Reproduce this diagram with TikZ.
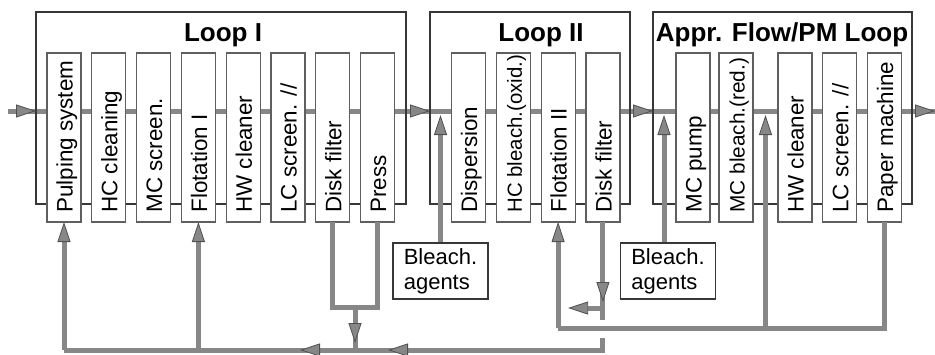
\documentclass[tikz,border=0pt]{standalone}
\usepackage{fontspec}
\setmainfont{Liberation Sans}
\usepackage{tikz}
\usetikzlibrary{positioning}
\usetikzlibrary{calc}
\usetikzlibrary{arrows.meta}
\usetikzlibrary{backgrounds}
\definecolor{flowgray}{RGB}{135,135,135}
\definecolor{tipgray}{RGB}{80,80,80}
\definecolor{framegray}{RGB}{55,55,55}
\definecolor{boxgray}{RGB}{95,95,95}

\begin{document}
\begin{tikzpicture}[x=0.5pt, y=-0.5pt, node distance=5.4pt,
    loopframe/.style={draw=framegray, line width=0.6pt, inner sep=0pt, outer sep=0pt, minimum height=96pt},
    unit/.style={draw=boxgray, line width=0.6pt, fill=white, minimum width=17pt, minimum height=84.5pt, inner sep=0pt, outer sep=0pt},
    unittext/.style={rotate=90, anchor=base west, inner sep=0pt, font=\fontsize{11.2}{13}\selectfont},
    looptitle/.style={anchor=base, inner sep=0pt, font=\fontsize{13}{15}\selectfont\bfseries},
    agentbox/.style={draw=framegray, line width=0.6pt, fill=white, minimum width=47.5pt, minimum height=28pt, align=left, inner sep=0pt, font=\fontsize{11}{12.5}\selectfont},
    flow/.style={draw=flowgray, line width=2.5pt},
    flowtip/.style={-{Triangle[length=10pt, width=6.5pt, fill=flowgray, color=tipgray, line width=0.4pt]}}]

    \useasboundingbox (0,0) rectangle (935,354);

    % loops
    \node[loopframe, minimum width=185pt] (loopI) at (221,108) {};
    \node[loopframe, minimum width=100pt] (loopII) at (530,108) {};
    \node[loopframe, minimum width=129.5pt] (loopPM) at (782.5,108) {};

    \node[looptitle] (tI) at (223,41) {Loop I};
    \node[looptitle] (tII) at (541,41) {Loop II};
    \node[looptitle] (tPM) at (782,41) {Appr. Flow/PM Loop};

    % units, loop I
    \node[unit] (pulp) at (64,137.5) {};
    \node[unit, right=of pulp] (hcc) {};
    \node[unit, right=of hcc] (mcs) {};
    \node[unit, right=of mcs] (flotI) {};
    \node[unit, right=of flotI] (hwc) {};
    \node[unit, right=of hwc] (lcs) {};
    \node[unit, right=of lcs] (dfI) {};
    \node[unit, right=of dfI] (press) {};

    % units, loop II
    \node[unit] (disp) at (468.5,137.5) {};
    \node[unit, right=of disp] (hcb) {};
    \node[unit, right=of hcb] (flotII) {};
    \node[unit, right=of flotII] (dfII) {};

    % units, approach flow
    \node[unit] (mcp) at (693,137.5) {};
    \node[unit, right=4.5pt of mcp] (mcb) {};
    \node[unit, right=12.5pt of mcb] (hwcII) {};
    \node[unit, right=of hwcII] (lcsII) {};
    \node[unit, right=of lcsII] (pm) {};

    \node[unittext] at ([shift={(4.3pt,4.5pt)}]pulp.south) {Pulping system};
    \node[unittext] at ([shift={(4.3pt,4.5pt)}]hcc.south) {HC cleaning};
    \node[unittext] at ([shift={(4.3pt,4.5pt)}]mcs.south) {MC screen.};
    \node[unittext] at ([shift={(4.3pt,4.5pt)}]flotI.south) {Flotation I};
    \node[unittext] at ([shift={(4.3pt,4.5pt)}]hwc.south) {HW cleaner};
    \node[unittext] at ([shift={(4.3pt,4.5pt)}]lcs.south) {LC screen. //};
    \node[unittext] at ([shift={(4.3pt,4.5pt)}]dfI.south) {Disk filter};
    \node[unittext] at ([shift={(4.3pt,4.5pt)}]press.south) {Press};
    \node[unittext] at ([shift={(4.3pt,4.5pt)}]disp.south) {Dispersion};
    \node[unittext, font=\fontsize{10.2}{12}\selectfont] at ([shift={(4.3pt,4.5pt)}]hcb.south) {HC bleach.(oxid.)};
    \node[unittext] at ([shift={(4.3pt,4.5pt)}]flotII.south) {Flotation II};
    \node[unittext] at ([shift={(4.3pt,4.5pt)}]dfII.south) {Disk filter};
    \node[unittext] at ([shift={(4.3pt,4.5pt)}]mcp.south) {MC pump};
    \node[unittext, font=\fontsize{10.4}{12}\selectfont] at ([shift={(4.3pt,4.5pt)}]mcb.south) {MC bleach.(red.)};
    \node[unittext] at ([shift={(4.3pt,4.5pt)}]hwcII.south) {HW cleaner};
    \node[unittext] at ([shift={(4.3pt,4.5pt)}]lcsII.south) {LC screen. //};
    \node[unittext] at ([shift={(4.3pt,4.5pt)}]pm.south) {Paper machine};

    \node[agentbox] (bleachI) at (440.5,271) {Bleach.\\agents};
    \node[agentbox] (bleachII) at (668,271) {Bleach.\\agents};

    \coordinate (in) at (8,111);
    \coordinate (out) at (935,111);
    \coordinate (bot) at (0,350);
    \coordinate (ret) at (0,328);
    \coordinate (j1) at (355,307);
    \coordinate (j2) at (0,308);
    \coordinate (t1) at (300,350);
    \coordinate (t2) at (388,350);
    \coordinate (r1) at ($(mcb.east |- ret)!0.5!(hwcII.west |- ret)$);

    % main stock line
    \begin{scope}[on background layer]
        \draw[flow] (in) -- (out);
        \draw[flow, flowtip] (in) -- (loopI.west |- in);
        \draw[flow, flowtip] (press.east |- in) -- (loopII.west |- in);
        \draw[flow, flowtip] (dfII.east |- in) -- (loopPM.west |- in);
        \draw[flow, flowtip] (pm.east |- in) -- (out);
    \end{scope}

    % bleaching chemicals
    \draw[flow, flowtip] (bleachI.north) -- ([yshift=-2pt]bleachI.north |- in);
    \draw[flow, flowtip] ([xshift=-2pt]bleachII.north) -- ([xshift=-2pt, yshift=-2pt]bleachII.north |- in);

    % filtrates, loop I
    \draw[flow] (dfI.south) |- (j1) -| (press.south);
    \draw[flow] (j1) -- (j1 |- bot);
    \draw[flow, flowtip] (j1) -- ([yshift=3.5pt]j1 |- bot);
    \draw[flow] ([yshift=-5pt]dfII.south |- ret) -- (dfII.south |- bot) -- (pulp.south |- bot);
    \draw[flow, flowtip] (pulp.south |- bot) -- (pulp.south);
    \draw[flow, flowtip] (flotI.south |- bot) -- (flotI.south);
    \draw[flow, flowtip] ([xshift=10pt]t1) -- (t1);
    \draw[flow, flowtip] ([xshift=10pt]t2) -- (t2);

    % filtrates, loop II and paper machine
    \draw[flow] (dfII.south) -- ([yshift=4pt]dfII.south |- ret);
    \draw[flow, flowtip] (dfII.south) -- ([yshift=3pt]dfII.south |- j2);
    \draw[flow, flowtip] (dfII.south |- j2) -- ([xshift=5pt]flotII.south |- j2);
    \draw[flow] (pm.south) |- (flotII.south |- ret);
    \draw[flow, flowtip] (flotII.south |- ret) -- (flotII.south);
    \draw[flow, flowtip] (r1) -- ([yshift=-2pt]r1 |- in);

\end{tikzpicture}
\end{document}
